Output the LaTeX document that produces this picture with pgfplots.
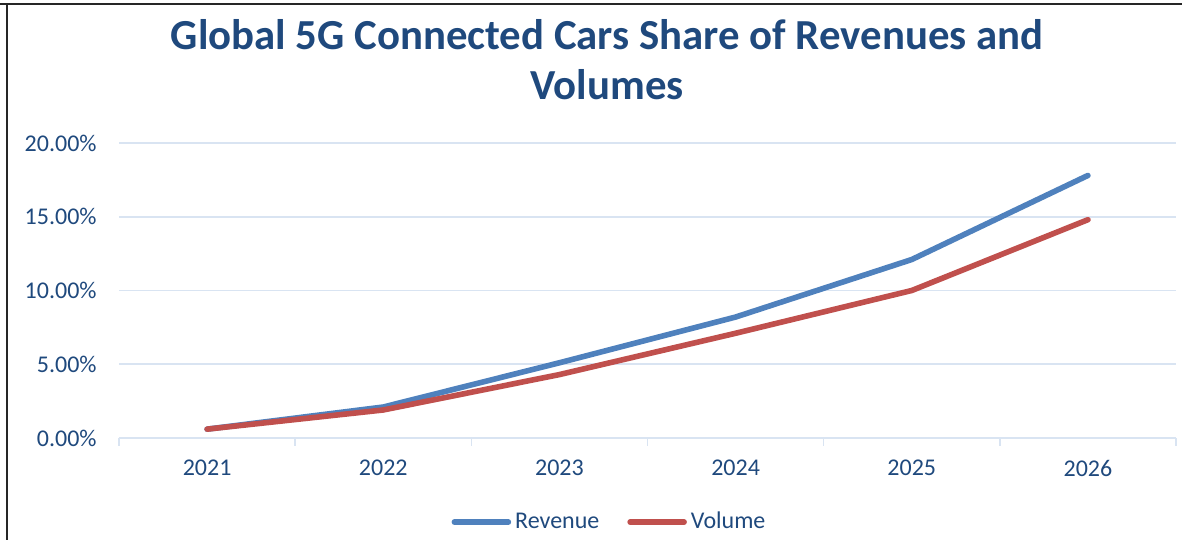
\documentclass[border=0pt]{standalone}
\usepackage{pgfplots}
\pgfplotsset{compat=1.18}
\usepackage{fontspec}
\setmainfont{Carlito}
\definecolor{titleblue}{HTML}{1F497D}
\definecolor{gridblue}{HTML}{D9E4F2}
\definecolor{revblue}{HTML}{4F81BD}
\definecolor{volred}{HTML}{C0504D}
\begin{document}
\begin{tikzpicture}
\path[use as bounding box] (0,0) rectangle (591pt,270pt);
\draw[line width=1pt, black!85] (0,268pt) -- (591pt,268pt);
\draw[line width=1pt, black!85] (3.5pt,0) -- (3.5pt,268pt);
\node[font=\fontsize{21.4}{25}\selectfont\bfseries, text=titleblue, align=center] at (303.5pt,240pt)
  {Global 5G Connected Cars Share of Revenues and\\Volumes};
\begin{axis}[
  at={(59.5pt,51pt)}, anchor=south west,
  scale only axis, width=528.5pt, height=147.5pt,
  xmin=-0.5, xmax=5.5, ymin=0, ymax=20,
  xtick={0,1,2,3,4,5},
  xticklabels={2021,2022,2023,2024,2025,2026},
  ytick={0,5,10,15,20},
  yticklabels={0.00\%,5.00\%,10.00\%,15.00\%,20.00\%},
  major tick length=0pt,
  extra x ticks={-0.5,0.5,1.5,2.5,3.5,4.5,5.5},
  extra x tick labels={},
  extra x tick style={major tick length=4pt, tick align=outside, tick style={draw=gridblue, line width=0.8pt}, grid=none},
  ymajorgrids,
  grid style={draw=gridblue, line width=0.8pt},
  axis x line*=bottom, axis y line*=left,
  x axis line style={draw=gridblue, line width=0.8pt},
  y axis line style={draw=none},
  tick label style={font=\fontsize{12}{14}\selectfont, text=titleblue},
  yticklabel style={anchor=east, inner sep=0pt, xshift=-11pt},
  xticklabel style={anchor=north, inner sep=0pt, yshift=-11pt},
  clip=false,
  legend style={at={(0.465,-0.285)}, anchor=center, draw=none, fill=none,
    legend columns=2, font=\fontsize{12}{14}\selectfont, text=titleblue,
    /tikz/every even column/.append style={column sep=12pt}},
  legend cell align=left,
  legend image code/.code={\draw[#1, line cap=round] (0pt,0pt) -- (27pt,0pt);},
]
\addplot[revblue, line width=2.8pt, line cap=round, line join=round] coordinates {
  (0,0.6) (1,2.1) (2,5.1) (3,8.2) (4,12.1) (5,17.8)};
\addlegendentry{Revenue}
\addplot[volred, line width=2.8pt, line cap=round, line join=round] coordinates {
  (0,0.6) (1,1.9) (2,4.3) (3,7.1) (4,10.0) (5,14.8)};
\addlegendentry{Volume}
\end{axis}
\end{tikzpicture}
\end{document}
